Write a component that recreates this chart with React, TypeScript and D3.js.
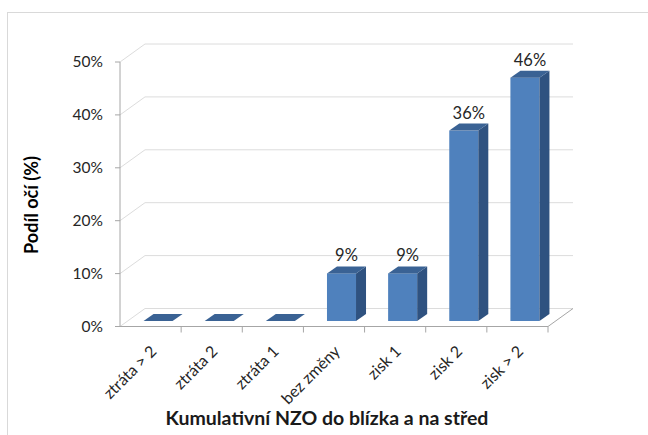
import * as d3 from 'd3';

const categories = ['ztráta > 2', 'ztráta 2', 'ztráta 1', 'bez změny', 'zisk 1', 'zisk 2', 'zisk > 2'];
const values = [0, 0, 0, 9, 9, 36, 46];
const yTicks = [0, 10, 20, 30, 40, 50];

const W = 648;
const H = 435;
const FONT = 'Lato, "Open Sans", sans-serif';

// 3d floor depth and bar depth
const depth = { dx: 25, dy: -18 };
const barDepth = { dx: 10, dy: -7 };
const shift = { dx: (depth.dx - barDepth.dx) / 2, dy: (depth.dy - barDepth.dy) / 2 };

const App = () => {
  const x = d3.scaleBand<string>().domain(categories).range([120, 548]).padding(0);
  const y = d3.scaleLinear().domain([0, 50]).range([326.5, 62]);
  const bw = x.bandwidth() * 0.475;
  const gridColor = '#dcdcdc';
  const axisColor = '#a6a6a6';

  const poly = (pts: [number, number][]) => pts.map((p) => p.join(',')).join(' ');

  return (
    <svg
      width={W}
      height={H}
      style={{ position: 'absolute', left: 0, top: 0, background: '#fff' }}
    >
      {/* outer chart border */}
      <rect x={7.5} y={12.5} width={700} height={500} fill="#fff" stroke="#d9d9d9" />

      {/* back wall gridlines + left wall diagonals */}
      {yTicks.map((t) => (
        <g key={'g' + t}>
          <line
            x1={120 + depth.dx}
            x2={548 + depth.dx}
            y1={y(t) + depth.dy}
            y2={y(t) + depth.dy}
            stroke={gridColor}
          />
          <line
            x1={120}
            x2={120 + depth.dx}
            y1={y(t)}
            y2={y(t) + depth.dy}
            stroke={gridColor}
          />
        </g>
      ))}

      {/* floor right edge */}
      <line x1={548} y1={y(0)} x2={548 + depth.dx} y2={y(0) + depth.dy} stroke={axisColor} />

      {/* y axis */}
      <line x1={120} x2={120} y1={y(50)} y2={y(0)} stroke={axisColor} />
      {yTicks.map((t) => (
        <g key={'t' + t}>
          <line x1={115} x2={120} y1={y(t)} y2={y(t)} stroke={axisColor} />
          <text
            x={103}
            y={y(t)}
            dy="0.35em"
            textAnchor="end"
            fontFamily={FONT}
            fontSize={15.5}
            fill="#262626"
          >
            {t}%
          </text>
        </g>
      ))}

      {/* x axis (floor front edge) */}
      <line x1={120} x2={548} y1={y(0)} y2={y(0)} stroke={axisColor} />
      {categories.map((c) => (
        <line
          key={'xt' + c}
          x1={(x(c) ?? 0) + x.bandwidth()}
          x2={(x(c) ?? 0) + x.bandwidth()}
          y1={y(0)}
          y2={y(0) + 6}
          stroke={axisColor}
        />
      ))}

      {/* bars */}
      {categories.map((c, i) => {
        const v = values[i];
        const cx = (x(c) ?? 0) + x.bandwidth() / 2;
        const x0 = cx - bw / 2 + shift.dx;
        const x1 = x0 + bw;
        const yb = y(0) + shift.dy;
        const yt = y(v) + shift.dy;
        const dx = barDepth.dx;
        const dy = barDepth.dy;
        return (
          <g key={'b' + c}>
            {v > 0 && (
              <>
                <rect x={x0} y={yt} width={bw} height={yb - yt} fill="#4f81bd" />
                <polygon
                  points={poly([
                    [x1, yt],
                    [x1 + dx, yt + dy],
                    [x1 + dx, yb + dy],
                    [x1, yb],
                  ])}
                  fill="#2f5280"
                />
              </>
            )}
            <polygon
              points={poly([
                [x0, yt],
                [x1, yt],
                [x1 + dx, yt + dy],
                [x0 + dx, yt + dy],
              ])}
              fill="#3a6294"
            />
            {v > 0 && (
              <text
                x={cx + shift.dx + dx / 2}
                y={yt + dy - 5}
                textAnchor="middle"
                fontFamily={FONT}
                fontSize={16.5}
                fill="#262626"
              >
                {v}%
              </text>
            )}
          </g>
        );
      })}

      {/* category labels */}
      {categories.map((c) => {
        const cx = (x(c) ?? 0) + x.bandwidth() / 2;
        return (
          <text
            key={'cl' + c}
            transform={`translate(${cx + 3},${y(0) + 22}) rotate(-45)`}
            textAnchor="end"
            dy="0.35em"
            fontFamily={FONT}
            fontSize={16}
            fill="#262626"
          >
            {c}
          </text>
        );
      })}

      {/* axis titles */}
      <text
        transform={`translate(38,205) rotate(-90)`}
        textAnchor="middle"
        fontFamily={FONT}
        fontWeight="bold"
        fontSize={18}
        fill="#000"
      >
        Podíl očí (%)
      </text>
      <text
        x={327}
        y={425}
        textAnchor="middle"
        fontFamily={FONT}
        fontWeight="bold"
        fontSize={19.5}
        fill="#1a1a1a"
      >
        Kumulativní NZO do blízka a na střed
      </text>
    </svg>
  );
};

export default App;
